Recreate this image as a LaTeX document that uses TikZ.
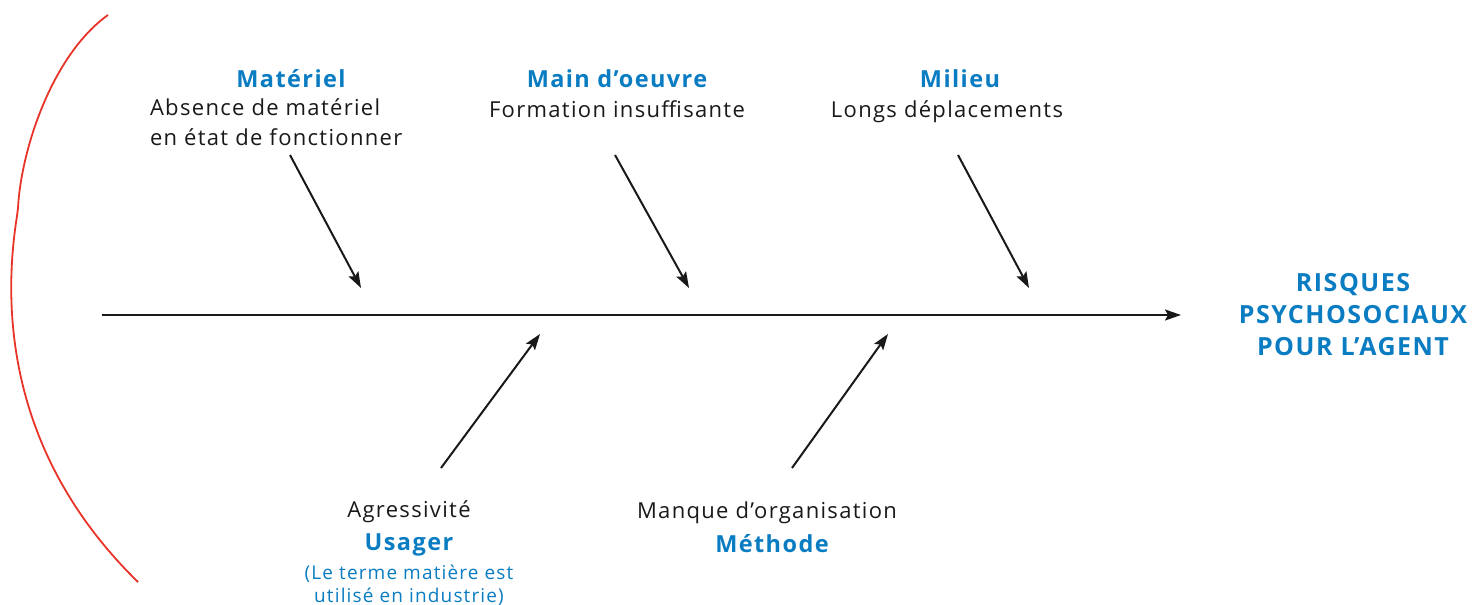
\documentclass[tikz,border=0pt]{standalone}
\usepackage{fontspec}
\setmainfont{Open Sans}[LetterSpace=6]
\usetikzlibrary{positioning}
\usetikzlibrary{arrows.meta}
\definecolor{cause}{RGB}{10,124,194}
\colorlet{bone}{black!90}
\definecolor{bracket}{RGB}{232,52,40}
\newcommand\headsize{\fontsize{23.5}{32}\selectfont}
\newcommand\effectsize{\fontsize{25}{32}\selectfont}
\newcommand\textsize{\fontsize{22}{30}\selectfont}
\newcommand\notesize{\fontsize{19}{23}\selectfont}

\begin{document}
\begin{tikzpicture}[x=1pt, y=-1pt, line width=2pt]
    \useasboundingbox (0,0) rectangle (1473,605);

    \tikzset{
        cause title/.style={
            text=cause, inner sep=0pt,
            font=\headsize\bfseries,
        },
        cause text/.style={
            text=black!90, inner sep=0pt,
            font=\textsize, align=center,
        },
        cause note/.style={
            text=cause, inner sep=0pt,
            font=\notesize, align=center,
        },
        bone line/.style={
            draw=bone, line width=2pt,
            -{Stealth[length=16pt, width=11pt, inset=3pt]},
        },
    }

    % Effect
    \node[cause title, font=\effectsize\bfseries, align=center] (effect)
        at (1353,315) {RISQUES\\PSYCHOSOCIAUX\\POUR L’AGENT};
    \coordinate (tail) at (102,315);
    \coordinate (head) at (1181,315);
    \draw[bone line] (tail) -- (head);

    % Upper causes
    \node[cause title] (materiel) at (291,79) {Matériel};
    \node[cause text, align=left, anchor=north west] (materiel-text)
        at (149,98) {Absence de matériel\\en état de fonctionner};

    \node[cause title] (main) at (617,79) {Main d’oeuvre};
    \node[cause text, below=11pt of main] (main-text) {Formation insuffisante};

    \node[cause title] (milieu) at (960,79) {Milieu};
    \node[cause text, below=11pt of milieu, xshift=-13pt] (milieu-text)
        {Longs déplacements};

    \coordinate (materiel-from) at (290,155);
    \coordinate (materiel-to) at (361,288);
    \coordinate (main-from) at (615,155);
    \coordinate (main-to) at (689,288);
    \coordinate (milieu-from) at (958,155);
    \coordinate (milieu-to) at (1029,288);

    \draw[bone line] (materiel-from) -- (materiel-to);
    \draw[bone line] (main-from) -- (main-to);
    \draw[bone line] (milieu-from) -- (milieu-to);

    % Lower causes
    \node[cause text] (usager-text) at (409,512) {Agressivité};
    \node[cause title, below=9pt of usager-text] (usager) {Usager};
    \node[cause note, below=6pt of usager] (usager-note)
        {(Le terme matière est\\utilisé en industrie)};

    \node[cause text] (methode-text) at (767,513) {Manque d’organisation};
    \node[cause title, below=8pt of methode-text, xshift=5pt] (methode) {Méthode};

    \coordinate (usager-from) at (441,468);
    \coordinate (usager-to) at (540,334);
    \coordinate (methode-from) at (792,468);
    \coordinate (methode-to) at (888,334);

    \draw[bone line] (usager-from) -- (usager-to);
    \draw[bone line] (methode-from) -- (methode-to);

    % Bracket
    \draw[bracket, line width=1.8pt]
        (108,15) .. controls (52,55) and (21,150) .. (18,208)
        -- (17,216)
        .. controls (2,310) and (8,455) .. (138,582);
\end{tikzpicture}
\end{document}
